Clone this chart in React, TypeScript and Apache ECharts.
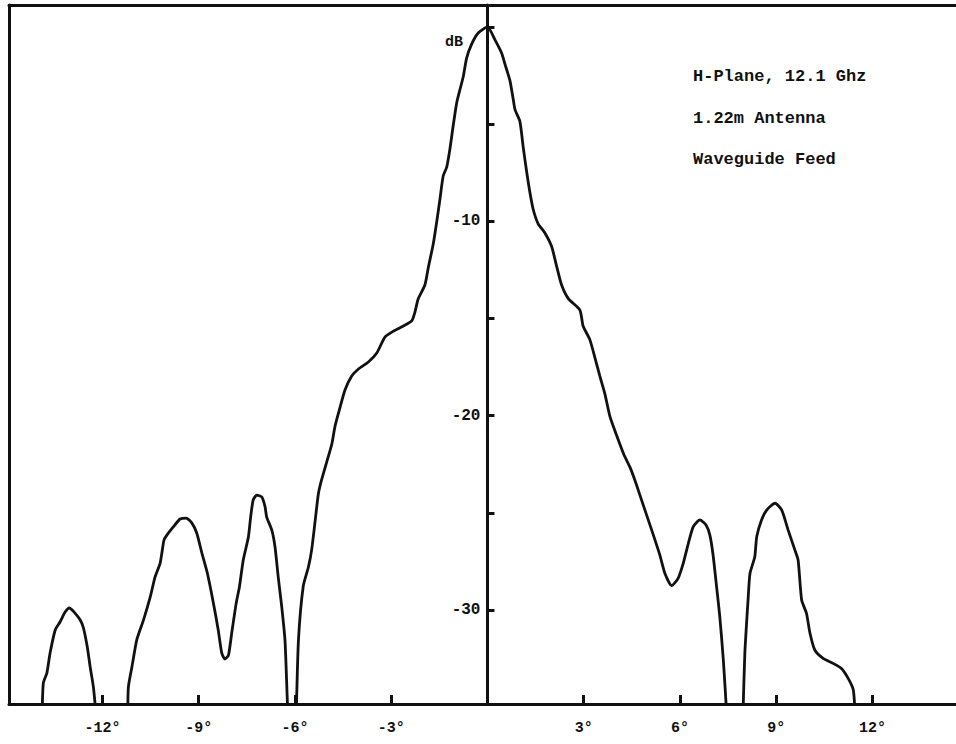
import React, { useEffect, useRef } from "react";
import * as echarts from "echarts";

// Axis definitions (degrees off boresight, relative level in dB)
const xRange = [-14.91, 14.6];
const yRange = [-34.84, 1.13];
const xTickValues = [-12, -9, -6, -3, 0, 3, 6, 9, 12];
const xLabelValues = [-12, -9, -6, -3, 3, 6, 9, 12];
const yTickValues = [0, -5, -10, -15, -20, -25, -30];
const yLabelValues = [-10, -20, -30];

// Measured H-plane pattern, split at the nulls that fall below the chart
const farLeftLobe: number[][] = [
  [-13.88, -35.5], [-13.84, -33.76], [-13.73, -33.25], [-13.63, -32.22], [-13.47, -31.03],
  [-13.32, -30.62], [-13.16, -30.11], [-13.03, -29.9], [-12.88, -30.11], [-12.69, -30.52],
  [-12.59, -30.93], [-12.47, -31.91], [-12.38, -32.94], [-12.28, -33.97], [-12.19, -35.5],
];

const leftSidelobes: number[][] = [
  [-11.21, -35.5], [-11.19, -33.97], [-11.08, -32.94], [-10.93, -31.55], [-10.72, -30.52],
  [-10.51, -29.34], [-10.36, -28.31], [-10.2, -27.59], [-10.08, -26.4], [-9.99, -26.15],
  [-9.79, -25.73], [-9.58, -25.32], [-9.39, -25.27], [-9.21, -25.53], [-9.06, -26.04],
  [-8.9, -27.07], [-8.73, -28.1], [-8.54, -29.65], [-8.39, -31.03], [-8.28, -32.22],
  [-8.18, -32.53], [-8.07, -32.32], [-7.97, -31.19], [-7.83, -29.65], [-7.73, -28.82],
  [-7.61, -27.43], [-7.45, -26.25], [-7.38, -25.22], [-7.3, -24.34], [-7.19, -24.09],
  [-7.03, -24.19], [-6.93, -24.7], [-6.88, -25.22], [-6.72, -25.89], [-6.62, -26.76],
  [-6.52, -28.31], [-6.41, -29.85], [-6.31, -31.55], [-6.26, -33.61], [-6.22, -35.5],
];

const mainLobe: number[][] = [
  [-5.96, -35.5], [-5.89, -31.55], [-5.74, -28.77], [-5.58, -27.79], [-5.48, -26.92],
  [-5.37, -25.42], [-5.27, -24.03], [-5.17, -23.31], [-5.01, -22.39], [-4.85, -21.46],
  [-4.75, -20.54], [-4.6, -19.61], [-4.44, -18.68], [-4.23, -17.96], [-4.02, -17.6],
  [-3.71, -17.24], [-3.45, -16.78], [-3.19, -15.95], [-2.93, -15.65], [-2.62, -15.39],
  [-2.36, -15.13], [-2.26, -14.67], [-2.16, -14.0], [-1.95, -13.28], [-1.84, -12.35],
  [-1.69, -11.17], [-1.58, -10.01], [-1.48, -8.85], [-1.38, -7.67], [-1.27, -7.21],
  [-1.17, -6.28], [-1.07, -5.1], [-0.96, -3.91], [-0.86, -3.24], [-0.75, -2.52],
  [-0.65, -1.6], [-0.49, -0.87], [-0.29, -0.31], [0, 0], [0.23, -0.65],
  [0.44, -1.34], [0.55, -1.94], [0.7, -2.76], [0.8, -3.7], [0.86, -4.27],
  [1.01, -4.86], [1.12, -6.27], [1.22, -7.44], [1.32, -8.49], [1.43, -9.42],
  [1.58, -10.13], [1.79, -10.6], [2.0, -11.3], [2.16, -12.35], [2.31, -13.28],
  [2.52, -13.98], [2.88, -14.57], [2.98, -15.39], [3.19, -16.09], [3.35, -17.03],
  [3.5, -17.96], [3.66, -18.89], [3.82, -20.07], [4.02, -21.0], [4.25, -22.0],
  [4.44, -22.65], [4.6, -23.35], [4.75, -24.09], [4.96, -25.12], [5.17, -26.15],
  [5.37, -27.17], [5.53, -28.12], [5.74, -28.75], [5.94, -28.37], [6.1, -27.6],
  [6.26, -26.57], [6.41, -25.72], [6.62, -25.37], [6.81, -25.63], [6.93, -26.15],
  [7.03, -27.17], [7.14, -28.81], [7.24, -30.35], [7.35, -32.58], [7.46, -35.5],
];

const rightSidelobe: number[][] = [
  [7.96, -35.5], [8.02, -32.23], [8.12, -29.49], [8.18, -28.12], [8.33, -27.26],
  [8.39, -26.23], [8.54, -25.37], [8.7, -24.86], [8.96, -24.51], [9.17, -24.86],
  [9.37, -25.89], [9.58, -26.92], [9.68, -27.43], [9.79, -29.49], [9.94, -30.17],
  [10.05, -31.2], [10.2, -32.06], [10.46, -32.49], [10.77, -32.75], [11.03, -33.01],
  [11.24, -33.52], [11.4, -34.12], [11.46, -35.5],
];

const segments = [farLeftLobe, leftSidelobes, mainLobe, rightSidelobe];

const notes = ["H-Plane, 12.1 Ghz", "1.22m Antenna", "Waveguide Feed"];
const unitLabel = "dB";

const FONT = "'Liberation Mono', 'DejaVu Sans Mono', monospace";
const INK = "#111";

const WIDTH = 956;
const HEIGHT = 744;
const GRID = { left: 9, right: 0, top: 5, bottom: 40 };

export default function App() {
  const ref = useRef<HTMLDivElement>(null);

  useEffect(() => {
    document.body.style.margin = "0";
    if (!ref.current) return;
    const chart = echarts.init(ref.current, null, { renderer: "svg" });

    // shift the labelled dB axis from the grid's left edge onto the 0° line
    const plotWidth = WIDTH - GRID.left - GRID.right;
    const zeroOffset = ((0 - xRange[0]) / (xRange[1] - xRange[0])) * plotWidth;

    const lineSeries = segments.map((seg, i) => ({
      type: "line",
      name: "pattern" + i,
      data: seg,
      xAxisIndex: 0,
      yAxisIndex: 0,
      showSymbol: false,
      symbol: "none",
      smooth: 0.2,
      clip: true,
      lineStyle: { color: INK, width: 2.8 },
      z: 3,
    }));

    const option: any = {
      animation: false,
      backgroundColor: "#fff",
      grid: { ...GRID, containLabel: false, outerBoundsMode: "none" },
      xAxis: [
        {
          type: "value",
          min: xRange[0],
          max: xRange[1],
          position: "bottom",
          axisLine: { show: true, onZero: false, lineStyle: { color: INK, width: 3 } },
          axisTick: {
            show: true,
            inside: true,
            length: 9,
            customValues: xTickValues,
            lineStyle: { color: INK, width: 3 },
          },
          axisLabel: {
            show: true,
            customValues: xLabelValues,
            formatter: (v: number) => v + "°",
            margin: 17,
            color: INK,
            fontFamily: FONT,
            fontWeight: "bold",
            fontSize: 15,
          },
          splitLine: { show: false },
        },
        {
          type: "value",
          min: xRange[0],
          max: xRange[1],
          position: "top",
          axisLine: { show: true, onZero: false, lineStyle: { color: INK, width: 3 } },
          axisTick: { show: false },
          axisLabel: { show: false },
          splitLine: { show: false },
        },
      ],
      yAxis: [
        {
          type: "value",
          min: yRange[0],
          max: yRange[1],
          position: "left",
          offset: -zeroOffset,
          axisLine: { show: true, onZero: false, lineStyle: { color: INK, width: 3 } },
          axisTick: {
            show: true,
            inside: true,
            length: 7,
            customValues: yTickValues,
            lineStyle: { color: INK, width: 3 },
          },
          axisLabel: {
            show: true,
            customValues: yLabelValues,
            formatter: (v: number) => String(v),
            margin: 7,
            color: INK,
            fontFamily: FONT,
            fontWeight: "bold",
            fontSize: 16,
          },
          splitLine: { show: false },
        },
        {
          type: "value",
          min: yRange[0],
          max: yRange[1],
          position: "left",
          axisLine: { show: true, onZero: false, lineStyle: { color: INK, width: 3 } },
          axisTick: { show: false },
          axisLabel: { show: false },
          splitLine: { show: false },
        },
      ],
      graphic: [
        {
          type: "text",
          left: 445,
          top: 35,
          style: {
            text: unitLabel,
            fill: INK,
            font: `bold 15px ${FONT}`,
          },
        },
        ...notes.map((t, i) => ({
          type: "text",
          left: 693,
          top: 68 + i * 41.5,
          style: {
            text: t,
            fill: INK,
            font: `bold 17px ${FONT}`,
          },
        })),
      ],
      series: lineSeries,
    };

    chart.setOption(option);
    return () => chart.dispose();
  }, []);

  return <div ref={ref} style={{ width: WIDTH, height: HEIGHT, background: "#fff" }} />;
}
